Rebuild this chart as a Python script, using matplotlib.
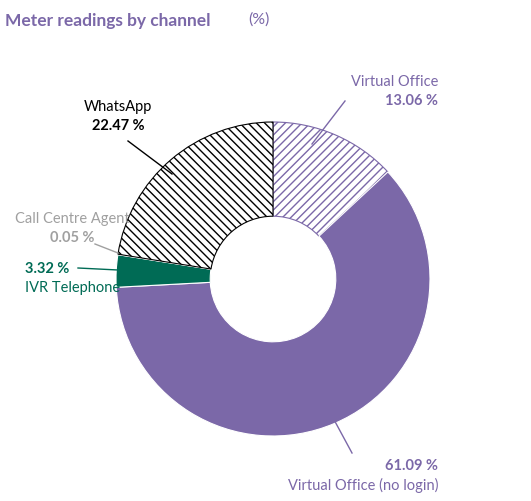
import matplotlib
matplotlib.use("Agg")
import matplotlib.pyplot as plt
import numpy as np
plt.rcParams['font.family'] = ['Lato', 'DejaVu Sans']

labels = ["Virtual Office", "Virtual Office (no login)", "IVR Telephone", "Call Centre Agent", "WhatsApp"]
values = [13.06, 61.09, 3.32, 0.05, 22.47]
purple = "#7B68A8"
green = "#006B55"
gray = "#A0A0A0"

fig = plt.figure(figsize=(5.31, 5.02), dpi=100)
ax = fig.add_axes([(273-157)/531, (502-280-157)/502, 314/531, 314/502])
face = ["white", purple, green, gray, "white"]
edge = [purple, "white", "white", "white", "black"]
hatch = ["////", None, None, None, "\\\\\\\\"]
wedges, _ = ax.pie(values, startangle=90, counterclock=False, radius=1,
                   wedgeprops=dict(width=0.6, linewidth=0.8))
for w, f, e, h in zip(wedges, face, edge, hatch):
    w.set_facecolor(f); w.set_edgecolor(e)
    if h: w.set_hatch(h)
ax.set_aspect("equal")
ax.set_xlim(-1, 1); ax.set_ylim(-1, 1)
ax.axis("off")

t = fig.text(0.01, 0.975, "Meter readings by channel", color=purple, fontsize=12.5, fontweight="bold", va="top")
fig.text(248/531, 0.975, "(%)", color=purple, fontsize=11.5, va="top")

def px(x, y):
    return (x/531, 1-y/502)

def ann(name, val, tx, ty, color, ha, line, valfirst=False):
    if valfirst:
        fig.text(*px(tx, ty), f"{val:.2f} %", color=color, fontsize=10.5, fontweight="bold", ha=ha, va="center")
        fig.text(*px(tx, ty+19), name, color=color, fontsize=10.5, ha=ha, va="center")
    else:
        fig.text(*px(tx, ty), name, color=color, fontsize=10.5, ha=ha, va="center")
        fig.text(*px(tx, ty+19), f"{val:.2f} %", color=color, fontsize=10.5, fontweight="bold", ha=ha, va="center")
    (x0, y0), (x1, y1) = line
    fig.add_artist(plt.Line2D([x0/531, x1/531], [1-y0/502, 1-y1/502], color=color, lw=1))

ann(labels[0], values[0], 438, 82, purple, "right", ((345, 102), (312, 145)))
ann(labels[1], values[1], 438, 466, purple, "right", ((352, 454), (332, 417)), valfirst=True)
ann(labels[4], values[4], 118, 107, "black", "center", ((128, 142), (172, 175)))
ann(labels[3], values[3], 72, 219, gray, "center", ((95, 245), (118, 254)))
ann(labels[2], values[2], 25, 269, green, "left", ((78, 269), (118, 271)), valfirst=True)

fig.savefig("out.png", dpi=100)
